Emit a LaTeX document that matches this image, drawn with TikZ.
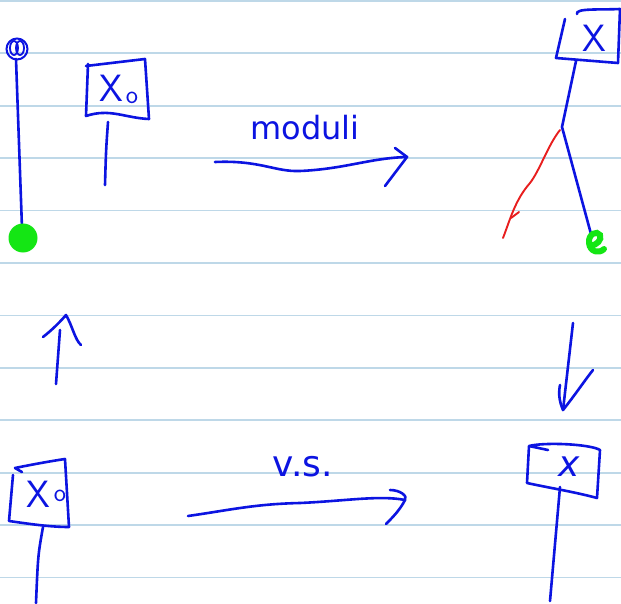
\documentclass[tikz,border=0pt]{standalone}
\usepackage{fontspec}
\usetikzlibrary{shapes.geometric}
\setmainfont{DejaVu Sans}
\definecolor{ink}{RGB}{12,20,225}
\definecolor{rule}{RGB}{190,216,232}
\definecolor{gink}{RGB}{20,230,20}
\definecolor{rink}{RGB}{232,30,30}
\tikzset{
  pen/.style={draw=ink, line width=2.6pt, line cap=round, line join=round},
  rpen/.style={draw=rink, line width=1.9pt, line cap=round, line join=round},
  lbl/.style={text=ink, font=\sffamily\fontsize{38}{38}\selectfont, inner sep=0pt},
  sub/.style={text=ink, font=\sffamily\fontsize{26}{26}\selectfont, inner sep=0pt},
  loopy/.style={draw=ink, line width=2pt, inner sep=0pt},
}
\begin{document}
\begin{tikzpicture}[x=1pt,y=-1pt]
\useasboundingbox (0,0) rectangle (621,604);
\fill[white] (0,0) rectangle (621,604);
% ruled paper
\foreach \k in {0,...,11}{
  \draw[rule, line width=1.8pt] (0,{1+52.4*\k}) -- (621,{1+52.4*\k});
}
% ---------- top left: X_0 box ----------
\draw[pen] (88,64) -- (86,116) .. controls (110,108) and (125,118) .. (149,119) -- (145,59) -- (86,66);
\node[lbl] (x0a) at (111,88) {X};
\node[sub] (x0asub) at (132,98) {o};
\coordinate (x0astemtop) at (108,122);
\coordinate (x0astembot) at (105,185);
\draw[pen] (x0astemtop) .. controls (106,150) .. (x0astembot);
% left pole with scribble and green ball
\coordinate (poletop) at (16,59);
\coordinate (polebot) at (22,228);
\draw[pen] (poletop) -- (polebot);
\node[loopy, circle, minimum size=21pt] (scribble) at (17,49) {};
\node[loopy, ellipse, minimum width=8pt, minimum height=14pt, line width=1.8pt] (loopa) at (14,48) {};
\node[loopy, ellipse, minimum width=8pt, minimum height=14pt, line width=1.8pt] (loopb) at (20,48) {};
\node[circle, fill=gink, minimum size=29pt, inner sep=0pt] (ball) at (23,238) {};
% ---------- moduli arrow ----------
\coordinate (ma) at (215,162);
\coordinate (mb) at (407,157);
\draw[pen] (ma) .. controls (260,160) and (275,172) .. (300,171) .. controls (345,169) and (370,158) .. (mb);
\draw[pen] (395,148) -- (mb) -- (385,186);
\node[lbl, font=\fontsize{32}{32}\selectfont] (moduli) at (305,128) {moduli};
% ---------- top right: X box and tree ----------
\draw[pen] (565,19) -- (556,58) -- (618,63) -- (620,9) .. controls (600,10) and (575,8) .. (577,14);
\node[lbl] (xtop) at (594,38) {X};
\coordinate (tsa) at (576,61);
\coordinate (tsb) at (562,127);
\coordinate (tsc) at (591,234);
\draw[pen] (tsa) -- (tsb) -- (tsc);
\coordinate (ra) at (560,130);
\coordinate (rb) at (503,238);
\draw[rpen] (ra) .. controls (548,145) and (540,170) .. (530,183) .. controls (515,200) and (510,220) .. (rb);
\draw[rpen] (511,218) -- (519,212);
% green e
\draw[draw=gink, line width=6pt, line cap=round] (590,246) .. controls (597,245) and (602,240) .. (600,235) .. controls (597,230) and (588,234) .. (589,243) .. controls (590,252) and (599,254) .. (604,249);
% ---------- up arrow ----------
\coordinate (ua) at (56,384);
\coordinate (ub) at (60,330);
\draw[pen] (ua) -- (ub);
\draw[pen] (43,337) .. controls (52,330) and (60,322) .. (66,315) .. controls (72,325) and (75,340) .. (81,345);
% ---------- down arrow ----------
\coordinate (da) at (573,323);
\coordinate (db) at (563,410);
\draw[pen] (da) -- (db);
\draw[pen] (560,385) .. controls (558,395) and (560,403) .. (db) .. controls (575,395) and (585,380) .. (593,370);
% ---------- bottom left: X_0 box ----------
\draw[pen] (13,475) -- (9,521) .. controls (30,524) and (50,527) .. (69,527) -- (65,459) .. controls (45,462) and (25,466) .. (15,468) -- (22,472);
\node[lbl] (x0b) at (38,494) {X};
\node[sub] (x0bsub) at (60,496) {o};
\coordinate (x0bstemtop) at (43,527);
\coordinate (x0bstembot) at (36,603);
\draw[pen] (x0bstemtop) .. controls (38,555) .. (x0bstembot);
% ---------- v.s. arrow ----------
\coordinate (va) at (188,516);
\coordinate (vb) at (405,500);
\draw[pen] (va) .. controls (230,510) and (255,504) .. (300,503) .. controls (345,501) and (380,495) .. (vb);
\draw[pen] (390,490) .. controls (400,490) and (408,496) .. (vb) .. controls (400,510) and (392,518) .. (386,524);
\node[lbl, font=\fontsize{36}{36}\selectfont] (vs) at (303,467) {v.s.};
% ---------- bottom right: x box ----------
\draw[pen] (529,446) -- (527,483) .. controls (550,488) and (575,492) .. (597,498) -- (600,450) .. controls (590,444) and (545,442) .. (529,446) -- (548,450);
\node[lbl, font=\itshape\fontsize{36}{36}\selectfont] (xb) at (569,467) {x};
\coordinate (xbstemtop) at (560,487);
\coordinate (xbstembot) at (550,601);
\draw[pen] (xbstemtop) -- (xbstembot);
\end{tikzpicture}
\end{document}
